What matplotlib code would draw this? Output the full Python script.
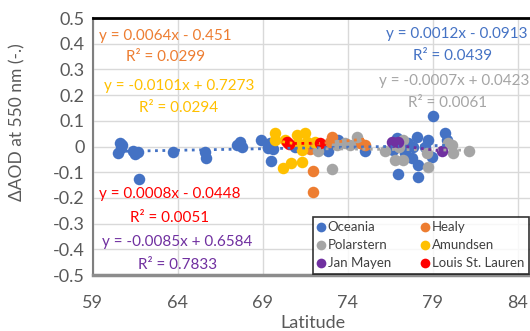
import matplotlib
matplotlib.use('Agg')
from matplotlib import pyplot as plt
import numpy as np

# series: (latitude, delta AOD)
oceania_lat = [60.61, 60.66, 60.5, 60.7, 61.39, 61.68, 61.49, 63.74, 65.6, 65.65, 61.72,
               67.67, 67.76, 67.47, 68.9, 69.33, 69.49, 69.33, 69.43, 72.86, 73.45, 75.02,
               76.88, 76.68, 76.98, 77.37, 77.76, 78.06, 77.86, 78.15, 78.15, 78.55, 78.74,
               78.94, 79.04, 79.72, 79.82, 77.57, 69.6, 70.9, 72.6]
oceania_aod = [0.013, -0.006, -0.026, 0.007, -0.019, -0.022, -0.03, -0.022, -0.022, -0.045, -0.126,
               0.019, -0.002, 0.007, 0.026, -0.002, -0.058, -0.006, 0.013, -0.019, 0.026, -0.019,
               0.033, -0.013, -0.106, -0.026, -0.045, 0.039, 0.0, -0.117, -0.071, 0.0, 0.026,
               -0.039, 0.12, 0.052, 0.026, 0.013, -0.01, 0.0, -0.005]

healy_lat = [73.06, 72.96, 71.98, 71.98, 75.02, 71.78, 74.7]
healy_aod = [0.039, 0.019, -0.097, -0.175, 0.007, -0.01, 0.015]

polar_lat = [77.27, 76.2, 76.78, 77.27, 78.65, 78.7, 80.12, 80.21, 81.15, 74.53, 74.14,
             73.84, 72.27, 73.06, 73.35, 77.0, 79.9]
polar_aod = [0.026, -0.019, -0.052, -0.052, -0.026, -0.078, 0.007, -0.026, -0.017, 0.039, 0.007,
             0.013, -0.019, -0.087, 0.007, 0.0, 0.015]

amund_lat = [69.72, 69.72, 70.31, 71.0, 71.49, 71.09, 71.29, 70.21, 70.66, 71.33, 71.59, 72.08]
amund_aod = [0.052, 0.026, 0.026, 0.046, 0.052, 0.013, -0.013, -0.084, -0.065, -0.062, 0.019, 0.019]

janm_lat = [76.59, 76.98, 79.53]
janm_aod = [0.016, 0.016, -0.019]

louis_lat = [70.41, 70.55, 72.37]
louis_aod = [0.019, 0.011, 0.013]

names = ['Oceania', 'Healy', 'Polarstern', 'Amundsen', 'Jan Mayen', 'Louis St. Lauren']
colors = ['#4472C4', '#ED7D31', '#A5A5A5', '#FFC000', '#7030A0', '#FF0000']
lats = [oceania_lat, healy_lat, polar_lat, amund_lat, janm_lat, louis_lat]
aods = [oceania_aod, healy_aod, polar_aod, amund_aod, janm_aod, louis_aod]

# trendline coefficients and r2 as printed on the chart
slopes = [0.0012, 0.0064, -0.0007, -0.0101, -0.0085, 0.0008]
intercepts = [-0.0913, -0.451, 0.0423, 0.7273, 0.6584, -0.0448]
eq_text = ['y = 0.0012x - 0.0913', 'y = 0.0064x - 0.451', 'y = -0.0007x + 0.0423',
           'y = -0.0101x + 0.7273', 'y = -0.0085x + 0.6584', 'y = 0.0008x - 0.0448']
r2_text = ['R² = 0.0439', 'R² = 0.0299', 'R² = 0.0061', 'R² = 0.0294', 'R² = 0.7833', 'R² = 0.0051']

plt.rcParams['font.family'] = ['Lato', 'DejaVu Sans']

fig = plt.figure(figsize=(5.3, 3.31), dpi=100)
ax = fig.add_axes([0.175, 0.169, 0.825, 0.7765])

handles = []
for i in range(6):
    x = np.array(lats[i])
    h, = ax.plot(x, aods[i], 'o', color=colors[i], ms=8.3, mec='none', zorder=3 + i)
    handles.append(h)
    xs = np.array([x.min(), x.max()])
    ax.plot(xs, slopes[i] * xs + intercepts[i], ':', color=colors[i], lw=2, zorder=10)

ax.set_xlim(59, 84.72)
ax.set_ylim(-0.5, 0.5)
ax.set_xticks([59, 64, 69, 74, 79, 84])
yt = np.round(np.arange(-0.5, 0.51, 0.1), 1)
ax.set_yticks(yt)
ax.set_yticklabels(['0' if v == 0 else '%.1f' % v for v in yt])
ax.grid(color='#D9D9D9', lw=1)
ax.set_axisbelow(True)
ax.tick_params(length=0, labelsize=13, labelcolor='#595959', pad=6)
ax.tick_params(axis='x', pad=14)
ax.spines['top'].set_color('black')
ax.spines['top'].set_linewidth(2)
ax.spines['right'].set_visible(False)
ax.spines['left'].set_color('#7F7F7F')
ax.spines['left'].set_linewidth(1.5)
ax.spines['bottom'].set_color('#8C8C8C')
ax.spines['bottom'].set_linewidth(2.5)

fig.text(0.032, 0.63, 'ΔAOD at 550 nm (-.)', rotation=90, ha='center', va='center',
         fontsize=12.5, color='#595959')
fig.text(0.59, 0.025, 'Latitude', ha='center', va='center', fontsize=13, color='#595959')

# equation labels: (x center px, y px) for eq and r2
eq_pos = [(528, 34, 'right'), (165, 36, 'center'), (529, 81, 'right'),
          (179, 86, 'center'), (177, 242, 'center'), (170, 194, 'center')]
r2_pos = [(453, 56), (166, 57), (448, 103), (179, 108), (178, 265), (170, 218)]
for i in range(6):
    ex, ey, ha = eq_pos[i]
    fig.text(ex / 530, 1 - ey / 331, eq_text[i], ha=ha, va='center', fontsize=11, color=colors[i])
    rx, ry = r2_pos[i]
    fig.text(rx / 530, 1 - ry / 331, r2_text[i], ha='center', va='center', fontsize=11, color=colors[i])

order = [0, 2, 4, 1, 3, 5]
leg = fig.legend([handles[k] for k in order], [names[k] for k in order], ncol=2,
                 loc='upper left', bbox_to_anchor=(0.59, 0.345), frameon=True, fancybox=False,
                 edgecolor='black', fontsize=9.5, handlelength=0.6, handletextpad=0.2,
                 columnspacing=2.3, borderpad=0.35, labelspacing=0.45, borderaxespad=0)
leg.get_frame().set_linewidth(1.2)
for t in leg.get_texts():
    t.set_color('#404040')
for h in leg.legend_handles:
    h.set_markersize(7)

fig.savefig('out.png', dpi=100)
